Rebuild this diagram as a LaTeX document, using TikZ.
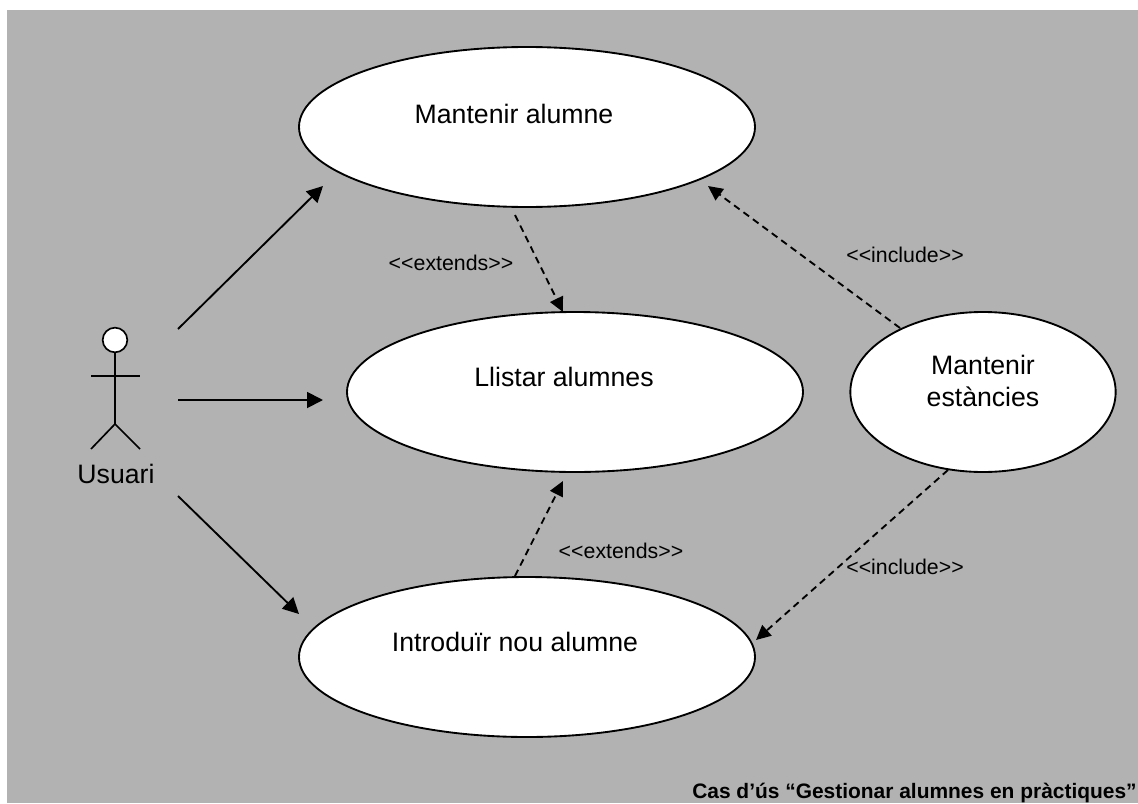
\documentclass[tikz,border=0pt]{standalone}
\usepackage{fontspec}
\setmainfont[Ligatures=NoCommon]{Liberation Sans}
\usetikzlibrary{shapes.geometric,arrows.meta}
\definecolor{bggray}{RGB}{178,178,178}
\tikzset{
 uc/.style={ellipse,draw=black,fill=white,line width=1.4pt,inner sep=0pt,minimum width=#1},
 big/.style={font=\fontsize{20}{23.5}\selectfont,align=center,inner sep=0pt},
 small/.style={font=\fontsize{16}{18}\selectfont,inner sep=0pt},
 solidarrow/.style={draw=black,line width=1.4pt,-{Triangle[length=12pt,width=12pt]}},
 dasharrow/.style={draw=black,line width=1.4pt,dash pattern=on 5.2pt off 3.6pt,-{Triangle[length=11pt,width=10.5pt]}},
 limb/.style={draw=black,line width=1.25pt},
}
\begin{document}
\begin{tikzpicture}[x=0.75pt,y=-0.75pt]
\useasboundingbox (0,0) rectangle (1138,803);
\fill[white] (0,0) rectangle (1138,803);
\fill[bggray] (7,10) rectangle (1138,803);
% free ends of connectors
\coordinate (a1) at (178,329);
\coordinate (a1e) at (323,186);
\coordinate (a2) at (178,400);
\coordinate (a2e) at (323,400);
\coordinate (a3) at (178,496);
\coordinate (a3e) at (299,614);
\draw[solidarrow] (a1) -- (a1e);
\draw[solidarrow] (a2) -- (a2e);
\draw[solidarrow] (a3) -- (a3e);
\coordinate (d1) at (515,215);
\coordinate (d1e) at (563,312);
\coordinate (d2) at (515,576);
\coordinate (d2e) at (563,481);
\coordinate (d3) at (900,328);
\coordinate (d3e) at (708,186);
\coordinate (d4) at (948,470);
\coordinate (d4e) at (756,640);
\draw[dasharrow] (d1) -- (d1e);
\draw[dasharrow] (d2) -- (d2e);
\draw[dasharrow] (d3) -- (d3e);
\draw[dasharrow] (d4) -- (d4e);
% use cases
\node[uc=342pt,minimum height=120pt] (ma) at (527,127) {};
\node[uc=342pt,minimum height=120pt] (ll) at (575,392) {};
\node[uc=342pt,minimum height=120pt] (in) at (527,657) {};
\node[uc=199pt,minimum height=120pt] (me) at (983,392) {};
\node[big] (tma) at (514,114) {Mantenir alumne};
\node[big] (tll) at (564,377) {Llistar alumnes};
\node[big] (tin) at (515,642) {Introduïr nou alumne};
\node[big] (tme) at (983,381) {Mantenir\\estàncies};
% actor
\node[circle,draw=black,fill=white,line width=1.25pt,minimum size=18.5pt,inner sep=0pt] (head) at (115,340) {};
\coordinate (hip) at (115,424);
\coordinate (arml) at (91,376);
\coordinate (armr) at (140,376);
\coordinate (legl) at (91,449);
\coordinate (legr) at (140,449);
\draw[limb] (head) -- (hip);
\draw[limb] (arml) -- (armr);
\draw[limb] (legl) -- (hip) -- (legr);
\node[big] (us) at (116,474) {Usuari};
% labels
\node[small] (l1) at (451,263) {<{}<extends>{}>};
\node[small] (l2) at (621,551) {<{}<extends>{}>};
\node[small] (l3) at (905,255) {<{}<include>{}>};
\node[small] (l4) at (905,567) {<{}<include>{}>};
\node[font=\bfseries\fontsize{15.7}{18}\selectfont,inner sep=0pt,anchor=base west] (cap) at (692,798) {Cas d’ús “Gestionar alumnes en pràctiques”};
\end{tikzpicture}
\end{document}
